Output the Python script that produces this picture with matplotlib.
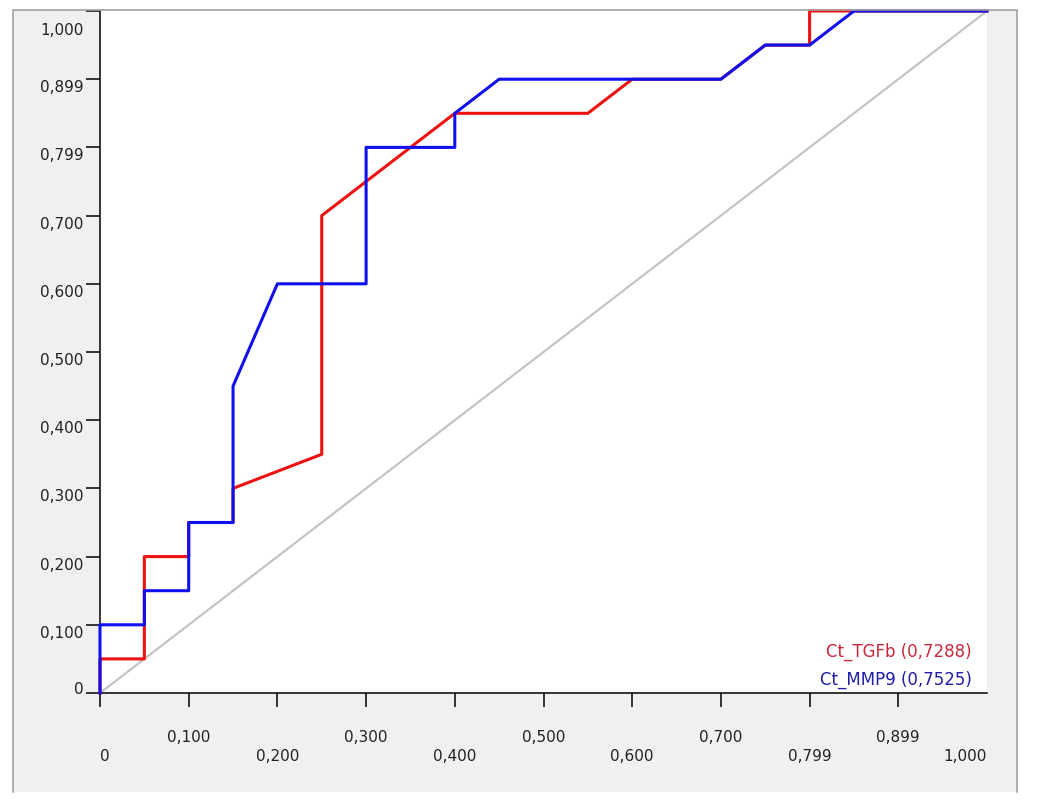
import matplotlib
matplotlib.use('Agg')
import matplotlib.pyplot as plt
from matplotlib.patches import Rectangle
from matplotlib.lines import Line2D
from matplotlib.transforms import ScaledTranslation

# ROC points (1 - specificity, sensitivity)
fpr_tgfb = [0, 0, 0.05, 0.05, 0.10, 0.10, 0.15, 0.15, 0.25, 0.25, 0.40, 0.55, 0.60, 0.70, 0.75, 0.80, 0.80, 1.0]
tpr_tgfb = [0, 0.05, 0.05, 0.20, 0.20, 0.25, 0.25, 0.30, 0.35, 0.70, 0.85, 0.85, 0.90, 0.90, 0.95, 0.95, 1.0, 1.0]

fpr_mmp9 = [0, 0, 0.05, 0.05, 0.10, 0.10, 0.15, 0.15, 0.20, 0.30, 0.30, 0.40, 0.40, 0.45, 0.70, 0.75, 0.80, 0.85, 1.0]
tpr_mmp9 = [0, 0.10, 0.10, 0.15, 0.15, 0.25, 0.25, 0.45, 0.60, 0.60, 0.80, 0.80, 0.85, 0.90, 0.90, 0.95, 0.95, 1.0, 1.0]

auc_tgfb = '0,7288'
auc_mmp9 = '0,7525'

y_ticks = [0, 0.1, 0.2, 0.3, 0.4, 0.5, 0.6, 0.7, 0.8, 0.9, 1.0]
y_labels = ['0', '0,100', '0,200', '0,300', '0,400', '0,500', '0,600', '0,700', '0,799', '0,899', '1,000']
x_major = [0, 0.2, 0.4, 0.6, 0.8, 1.0]
x_major_labels = ['0', '0,200', '0,400', '0,600', '0,799', '1,000']
x_minor = [0.1, 0.3, 0.5, 0.7, 0.9]
x_minor_labels = ['0,100', '0,300', '0,500', '0,700', '0,899']

plt.rcParams['font.family'] = ['DejaVu Sans']

W, H = 1041, 803
fig = plt.figure(figsize=(W / 100, H / 100), dpi=100)
fig.patch.set_facecolor('white')

# grey panel with a thin frame on left/top/right
x0, x1 = 13 / W, 1017 / W
y0, y1 = 1 - 793 / H, 1 - 11 / H
fig.patches.append(Rectangle((x0, y0), x1 - x0, y1 - y0, transform=fig.transFigure,
                             facecolor='#f0f0f0', edgecolor='none', zorder=-5))
fig.add_artist(Line2D([x0, x0, x1, x1], [y0, y1, y1, y0], transform=fig.transFigure,
                      color='#a0a0a0', lw=1.2))

ax = fig.add_axes([100 / W, 1 - 694 / H, 887 / W, 682 / H])
ax.set_facecolor('white')

ax.plot([0, 1], [0, 1], color='#c4c4c4', lw=1.6, zorder=2)
ax.plot(fpr_tgfb, tpr_tgfb, color='#ee1111', lw=2.2, zorder=3, clip_on=False)
ax.plot(fpr_mmp9, tpr_mmp9, color='#1010ee', lw=2.2, zorder=4, clip_on=False)

ax.set_xlim(0, 1)
ax.set_ylim(0, 1)
for s in ['top', 'right']:
    ax.spines[s].set_visible(False)
for s in ['left', 'bottom']:
    ax.spines[s].set_linewidth(1.1)
    ax.spines[s].set_color('black')

ax.set_yticks(y_ticks, y_labels)
ax.set_xticks(x_major, x_major_labels)
ax.set_xticks(x_minor, x_minor_labels, minor=True)

ax.tick_params(axis='y', length=10, width=1.1, pad=2, labelsize=11, labelcolor='#222222')
ax.tick_params(axis='x', which='major', length=10, width=1.1, pad=29.5, labelsize=11, labelcolor='#222222')
ax.tick_params(axis='x', which='minor', length=10, width=1.1, pad=16, labelsize=11, labelcolor='#222222')

ylabs = ax.get_yticklabels()
for lab in ylabs:
    lab.set_va('top')
ylabs[0].set_va('baseline')
ylabs[-1].set_transform(ylabs[-1].get_transform() + ScaledTranslation(0, -0.11, fig.dpi_scale_trans))

xlabs = ax.get_xticklabels()
xlabs[0].set_ha('left')
xlabs[-1].set_ha('right')
ax.xaxis.get_major_ticks()[-1].tick1line.set_visible(False)

ax.text(0.983, 0.0616, f'Ct_TGFb ({auc_tgfb})', transform=ax.transAxes, ha='right', va='center',
        fontsize=12, color='#c8283a')
ax.text(0.983, 0.0205, f'Ct_MMP9 ({auc_mmp9})', transform=ax.transAxes, ha='right', va='center',
        fontsize=12, color='#1e1ea8')

fig.savefig('out.png', dpi=100)
